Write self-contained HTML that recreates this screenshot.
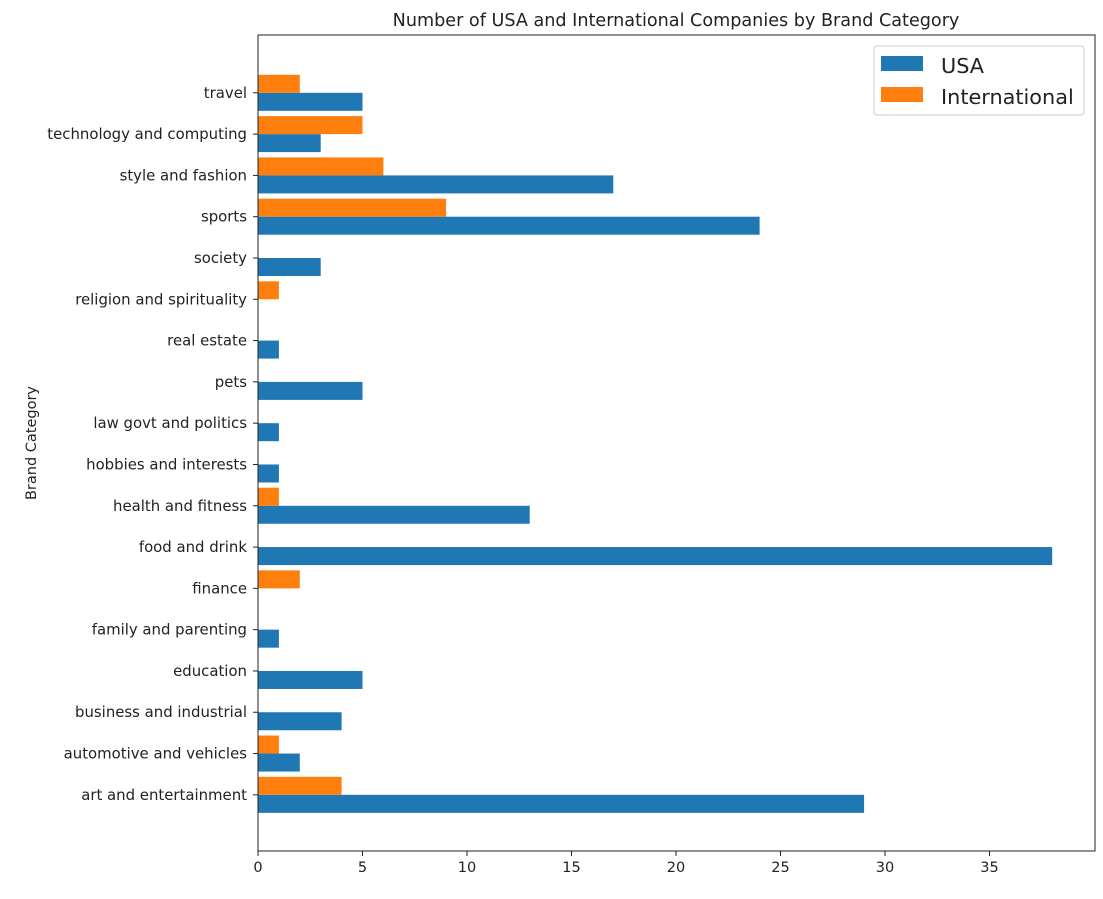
<!DOCTYPE html>
<html><head><meta charset="utf-8"><style>
body{margin:0;background:#fff;}
svg text{font-family:"DejaVu Sans","Liberation Sans",sans-serif;fill:#222;}
</style></head><body>
<svg id="chart" width="1103" height="894" xmlns="http://www.w3.org/2000/svg">
<rect x="0" y="0" width="1103" height="894" fill="#fff"/>
<text x="676" y="26" font-size="17.6" text-anchor="middle">Number of USA and International Companies by Brand Category</text>
<text transform="translate(36,443) rotate(-90)" font-size="14.5" text-anchor="middle">Brand Category</text>
<g id="bars"></g>
<g id="axes"></g>
<g>
<rect x="874" y="46" width="210" height="69" rx="3" fill="#fff" stroke="#ccc"/>
<rect x="881" y="56" width="42" height="15" fill="#1f77b4"/>
<text x="941" y="73" font-size="20.8">USA</text>
<rect x="881" y="87" width="42" height="15" fill="#ff7f0e"/>
<text x="941" y="104" font-size="20.8">International</text>
</g>
</svg>
<script>
const categories=["art and entertainment","automotive and vehicles","business and industrial","education","family and parenting","finance","food and drink","health and fitness","hobbies and interests","law govt and politics","pets","real estate","religion and spirituality","society","sports","style and fashion","technology and computing","travel"];
const usaValues=[29,2,4,5,1,0,38,13,1,1,5,1,0,3,24,17,3,5];
const intlValues=[4,1,0,0,0,2,0,1,0,0,0,0,1,0,9,6,5,2];
const xTicks=[0,5,10,15,20,25,30,35];
const L=258,R=1095,T=35,B=851;
const x=v=>L+v*20.9;
const y=i=>B-(i+1.36)*(B-T)/(categories.length-1+1.36+1.40);
const unit=(B-T)/(categories.length-1+2.76);
const bh=0.436*unit;
const NS="http://www.w3.org/2000/svg";
const bars=document.getElementById('bars'),axes=document.getElementById('axes');
function mk(tag,at,p){const e=document.createElementNS(NS,tag);for(const k in at)e.setAttribute(k,at[k]);p.appendChild(e);return e;}
categories.forEach((c,i)=>{
 const cy=y(i);
 const b=mk('rect',{x:L,y:cy,width:x(usaValues[i])-L,height:bh,fill:'#1f77b4'},bars);
 
 
 const o=mk('rect',{x:L,y:cy-bh,width:x(intlValues[i])-L,height:bh,fill:'#ff7f0e'},bars);
 
 
 const t=mk('line',{x1:L-5,x2:L,y1:cy,y2:cy,stroke:'#222'},axes);
 
 
 const tx=mk('text',{x:L-11,y:cy+5,'font-size':14.9,'text-anchor':'end'},axes);
 tx.textContent=c;
 
 
});
xTicks.forEach(v=>{
 const t=mk('line',{x1:x(v),x2:x(v),y1:B,y2:B+5,stroke:'#222'},axes);
 
 
 const tx=mk('text',{x:x(v),y:B+21,'font-size':14.5,'text-anchor':'middle'},axes);
 tx.textContent=v;
 
 
});
const f=mk('rect',{x:L,y:T,width:R-L,height:B-T,fill:'none',stroke:'#222','stroke-width':1},axes);


</script>
</body></html>
